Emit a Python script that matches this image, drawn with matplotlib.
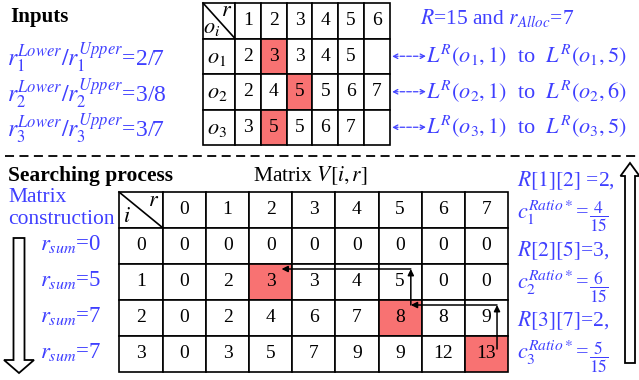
import matplotlib
matplotlib.use("Agg")
import matplotlib.pyplot as plt
from matplotlib.patches import Rectangle, FancyArrow

plt.rcParams['mathtext.fontset'] = 'stix'
plt.rcParams['font.family'] = ['Liberation Serif', 'DejaVu Serif']

BLUE = '#3f3fff'
RED = '#f87272'

# ---------------- data ----------------
top_cols = ['1', '2', '3', '4', '5', '6']
top_rows = [r'$o_1$', r'$o_2$', r'$o_3$']
top_values = [
    ['2', '3', '3', '4', '5', ''],
    ['2', '4', '5', '5', '6', '7'],
    ['3', '5', '5', '6', '7', ''],
]
top_highlight = [(0, 1), (1, 2), (2, 1)]  # (row, col) index into top_values

ratio_labels = [r'$r_1^{Lower}/r_1^{Upper}$=2/7',
                r'$r_2^{Lower}/r_2^{Upper}$=3/8',
                r'$r_3^{Lower}/r_3^{Upper}$=3/7']
range_labels = [r'$L^R(o_1,1)$  to  $L^R(o_1,5)$',
                r'$L^R(o_2,1)$  to  $L^R(o_2,6)$',
                r'$L^R(o_3,1)$  to  $L^R(o_3,5)$']

bot_cols = ['0', '1', '2', '3', '4', '5', '6', '7']
bot_rows = ['0', '1', '2', '3']
bot_values = [
    [0, 0, 0, 0, 0, 0, 0, 0],
    [0, 2, 3, 3, 4, 5, 0, 0],
    [0, 2, 4, 6, 7, 8, 8, 9],
    [0, 3, 5, 7, 9, 9, 12, 13],
]
rsum_labels = [r'$r_{sum}$=0', r'$r_{sum}$=5', r'$r_{sum}$=7', r'$r_{sum}$=7']
# traceback path (i, r), from last row back to the first
path_cells = [(3, 7), (2, 5), (1, 2)]
right_R_labels = [r'$R[1][2]$ =2,', r'$R[2][5]$=3,', r'$R[3][7]$=2,']
right_c_labels = [r'$c_1^{Ratio*}$=', r'$c_2^{Ratio*}$=', r'$c_3^{Ratio*}$=']
c_ratio_num = [4, 6, 5]
R_total = 15

# ---------------- figure ----------------
fig = plt.figure(figsize=(6.39, 3.80), dpi=100)
ax = fig.add_axes([0, 0, 1, 1])
ax.set_xlim(0, 639)
ax.set_ylim(380, 0)
ax.axis('off')

LW = 1.2
NUM_FS = 14

# ---- top table ----
tx0, thw, tcw = 203, 32, 25.8
ty0, trh = 3, 35.5
def tcell_x(c):
    return tx0 if c < 0 else tx0 + thw + c * tcw
for ri in range(-1, len(top_rows)):
    y = ty0 + (ri + 1) * trh
    for ci in range(-1, len(top_cols)):
        x = tcell_x(ci)
        w = thw if ci < 0 else tcw
        fc = RED if (ri, ci) in top_highlight else 'white'
        ax.add_patch(Rectangle((x, y), w, trh, fc=fc, ec='black', lw=LW))
        cx, cy = x + w / 2, y + trh / 2
        if ri == -1 and ci >= 0:
            ax.text(cx, cy, top_cols[ci], ha='center', va='center', fontsize=NUM_FS)
        elif ri >= 0 and ci == -1:
            ax.text(cx - 2, cy + 2, top_rows[ri], ha='center', va='center', fontsize=16)
        elif ri >= 0:
            ax.text(cx, cy, top_values[ri][ci], ha='center', va='center', fontsize=NUM_FS)
# diagonal header
ax.plot([tx0, tx0 + thw], [ty0, ty0 + trh], color='black', lw=LW)
ax.text(tx0 + thw - 8, ty0 + 9, r'$r$', ha='center', va='center', fontsize=16)
ax.text(tx0 + 9, ty0 + trh - 10, r'$o_i$', ha='center', va='center', fontsize=16)

# ---- top texts ----
ax.text(10, 17, 'Inputs', fontsize=15, fontweight='bold', ha='left', va='center')
for k, lab in enumerate(ratio_labels):
    ax.text(7, ty0 + (k + 1.5) * trh + 2, lab, color=BLUE, fontsize=17, ha='left', va='center')
ax.text(420, 18, r'$R$=15 and $r_{Alloc}$=7', color=BLUE, fontsize=15.5, ha='left', va='center')
for k, lab in enumerate(range_labels):
    yy = ty0 + (k + 1.5) * trh
    ax.annotate('', xy=(392, yy), xytext=(426, yy),
                arrowprops=dict(arrowstyle='<->', color=BLUE, lw=0.9, ls='--',
                                shrinkA=0, shrinkB=0, mutation_scale=8))
    ax.text(426, yy, lab, color=BLUE, fontsize=16, ha='left', va='center')

# dashed separator
ax.plot([5, 636], [156, 156], color='black', lw=1.3, ls=(0, (5, 3)))

# ---- bottom texts ----
ax.text(8, 176, 'Searching process', fontsize=15.5, fontweight='bold', ha='left', va='center')
ax.text(310, 176, r'Matrix $V[i,r]$', fontsize=15.5, ha='center', va='center')
ax.text(8, 198, 'Matrix', color=BLUE, fontsize=15.5, ha='left', va='center')
ax.text(8, 219, 'construction', color=BLUE, fontsize=15.5, ha='left', va='center')

# ---- bottom table ----
bx0, bhw, bcw = 119, 44, 43.1
by0, brh = 192, 36
def bcell_x(c):
    return bx0 if c < 0 else bx0 + bhw + c * bcw
bot_highlight = list(path_cells)
for ri in range(-1, len(bot_rows)):
    y = by0 + (ri + 1) * brh
    for ci in range(-1, len(bot_cols)):
        x = bcell_x(ci)
        w = bhw if ci < 0 else bcw
        fc = RED if (ri, ci) in bot_highlight else 'white'
        ax.add_patch(Rectangle((x, y), w, brh, fc=fc, ec='black', lw=LW))
        cx, cy = x + w / 2, y + brh / 2
        if ri == -1 and ci >= 0:
            ax.text(cx, cy, bot_cols[ci], ha='center', va='center', fontsize=NUM_FS)
        elif ri >= 0 and ci == -1:
            ax.text(cx, cy, bot_rows[ri], ha='center', va='center', fontsize=NUM_FS)
        elif ri >= 0:
            ax.text(cx, cy, str(bot_values[ri][ci]), ha='center', va='center', fontsize=NUM_FS)
ax.plot([bx0, bx0 + bhw], [by0, by0 + brh], color='black', lw=LW)
ax.text(bx0 + bhw - 9, by0 + 10, r'$r$', ha='center', va='center', fontsize=16)
ax.text(bx0 + 8, by0 + brh - 10, r'$i$', ha='center', va='center', fontsize=16)

for k, lab in enumerate(rsum_labels):
    ax.text(40, by0 + (k + 1.5) * brh - 2, lab, color=BLUE, fontsize=16.5, ha='left', va='center')

# traceback arrows
aprops = dict(arrowstyle='-|>', color='black', lw=1.1, shrinkA=0, shrinkB=0, mutation_scale=9)
def row_top(i):
    return by0 + (i + 1) * brh
def col_x(r):
    return bcell_x(r) + 0.75 * bcw
start_y = row_top(path_cells[0][0]) + 13
for (i, r), (i2, r2) in zip(path_cells[:-1], path_cells[1:]):
    ytop = row_top(i2) + 5
    x = col_x(r)
    ax.annotate('', xy=(x, ytop), xytext=(x, start_y), arrowprops=aprops)
    ax.annotate('', xy=(col_x(r2), ytop), xytext=(x, ytop), arrowprops=aprops)
    start_y = ytop

# right texts
renderer = fig.canvas.get_renderer()
inv = ax.transData.inverted()
for k in range(3):
    ax.text(517, 181 + k * 70, right_R_labels[k], color=BLUE, fontsize=15.5, ha='left', va='center')
    yc = 213 + k * 70
    t = ax.text(517, yc, right_c_labels[k], color=BLUE, fontsize=16, ha='left', va='center')
    bb = t.get_window_extent(renderer=renderer)
    x_end = inv.transform((bb.x1, bb.y0))[0]
    ax.text(x_end + 0.5, yc + 4, r'$\dfrac{%d}{%d}$' % (c_ratio_num[k], R_total),
            color=BLUE, fontsize=12.5, ha='left', va='center')

# big hollow arrows
ax.add_patch(FancyArrow(19, 238, 0, 135, width=11, head_width=30, head_length=13,
                        length_includes_head=True, fc='white', ec='black', lw=1.3))
ax.add_patch(FancyArrow(630, 363, 0, -200, width=10, head_width=19, head_length=13,
                        length_includes_head=True, fc='white', ec='black', lw=1.3))

fig.savefig('out.png', dpi=100)
